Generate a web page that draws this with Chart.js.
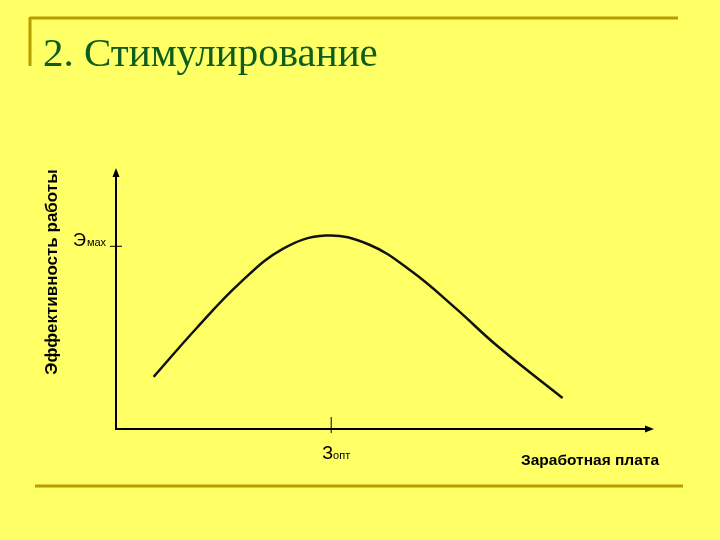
<!DOCTYPE html>
<html>
<head>
<meta charset="utf-8">
<script src="https://cdn.jsdelivr.net/npm/chart.js@4.4.1/dist/chart.umd.min.js"></script>
<style>
  html, body { margin: 0; padding: 0; background: #ffff66; }
  #wrap { width: 720px; height: 540px; }
</style>
</head>
<body>
<div id="wrap"><canvas id="chartStim"></canvas></div>
<script>
// salary (x) vs work efficiency (y), both on 0..100 scale
const salary = [7, 15, 23, 31, 39, 47, 55, 63, 71, 83];
const effect = [20, 38.7, 55.9, 69, 74.1, 70.7, 60.3, 46.5, 31.6, 11.9];

const titleText = '2. Стимулирование';
const yLabel = 'Эффективность работы';
const xLabel = 'Заработная плата';
const zOpt = 40;   // оптимальная зарплата
const eMax = 70;   // отметка Эмах на оси

const points = salary.map((x, i) => ({ x: x, y: effect[i] }));

const slideDeco = {
    id: 'slideDeco',
    beforeDraw(chart) {
        const ctx = chart.ctx;
        ctx.save();
        ctx.fillStyle = '#ffff66';
        ctx.fillRect(0, 0, chart.width, chart.height);
        // frame lines of the slide
        ctx.strokeStyle = '#b89c00';
        ctx.lineWidth = 3;
        ctx.beginPath();
        ctx.moveTo(30, 18); ctx.lineTo(678, 18);
        ctx.moveTo(30, 17); ctx.lineTo(30, 66);
        ctx.moveTo(35, 486); ctx.lineTo(683, 486);
        ctx.stroke();
        // title
        ctx.fillStyle = '#0d5e1c';
        ctx.font = '41px "Liberation Serif", "DejaVu Serif", serif';
        ctx.textBaseline = 'alphabetic';
        ctx.fillText(titleText, 43, 66);
        ctx.restore();
    },
    afterDraw(chart) {
        const ctx = chart.ctx;
        const a = chart.chartArea;
        const xs = chart.scales.x, ys = chart.scales.y;
        ctx.save();
        ctx.strokeStyle = '#000';
        ctx.fillStyle = '#000';
        ctx.lineWidth = 2;
        // axes
        ctx.beginPath();
        ctx.moveTo(a.left, a.top + 4); ctx.lineTo(a.left, a.bottom); ctx.lineTo(a.right - 4, a.bottom);
        ctx.stroke();
        // arrow heads
        ctx.beginPath();
        ctx.moveTo(a.left, a.top); ctx.lineTo(a.left - 3.5, a.top + 9); ctx.lineTo(a.left + 3.5, a.top + 9);
        ctx.closePath(); ctx.fill();
        ctx.beginPath();
        ctx.moveTo(a.right, a.bottom); ctx.lineTo(a.right - 9, a.bottom - 3.5); ctx.lineTo(a.right - 9, a.bottom + 3.5);
        ctx.closePath(); ctx.fill();
        // tick marks
        ctx.lineWidth = 1;
        const tx = xs.getPixelForValue(zOpt);
        const ty = ys.getPixelForValue(eMax);
        ctx.beginPath();
        ctx.moveTo(tx, a.bottom - 12); ctx.lineTo(tx, a.bottom + 4);
        ctx.moveTo(a.left - 6, ty); ctx.lineTo(a.left + 6, ty);
        ctx.stroke();
        // Эмах / Зопт
        const sans = '"Liberation Sans", Arial, sans-serif';
        ctx.textBaseline = 'alphabetic';
        ctx.font = '18px ' + sans;
        ctx.fillText('Э', 73, ty);
        let w = ctx.measureText('Э').width;
        ctx.font = '11px ' + sans;
        ctx.fillText('мах', 73 + w + 1, ty);
        ctx.font = '18px ' + sans;
        ctx.fillText('З', tx - 9, a.bottom + 30);
        w = ctx.measureText('З').width;
        ctx.font = '11px ' + sans;
        ctx.fillText('опт', tx - 9 + w, a.bottom + 30);
        // axis titles
        ctx.font = 'bold 15.5px ' + sans;
        ctx.fillText(xLabel, 521, a.bottom + 36);
        ctx.font = 'bold 17px ' + sans;
        ctx.translate(57, 272);
        ctx.rotate(-Math.PI / 2);
        ctx.textAlign = 'center';
        ctx.fillText(yLabel, 0, 0);
        ctx.restore();
    }
};

const ctx = document.querySelector('#chartStim').getContext('2d');
const stimChart = new Chart(ctx, {
    type: 'scatter',
    data: {
        datasets: [{
            label: 'Эффективность',
            data: points,
            showLine: true,
            borderColor: '#111',
            borderWidth: 2.5,
            pointRadius: 0,
            tension: 0.4
        }]
    },
    options: {
        responsive: true,
        maintainAspectRatio: false,
        animation: false,
        layout: {
            padding: { left: 116, top: 168, right: 66, bottom: 111 }
        },
        plugins: {
            legend: { display: false },
            tooltip: { enabled: false }
        },
        scales: {
            x: { type: 'linear', min: 0, max: 100, display: false },
            y: { type: 'linear', min: 0, max: 100, display: false }
        }
    },
    plugins: [slideDeco]
});
</script>
</body>
</html>
